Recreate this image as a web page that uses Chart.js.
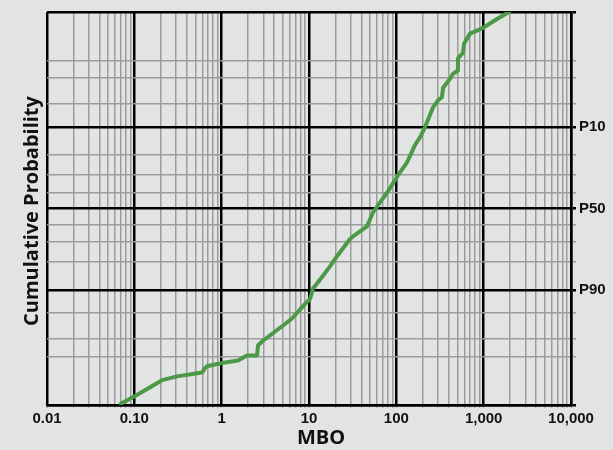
<!DOCTYPE html>
<html>
<head>
<meta charset="utf-8">
<script src="https://cdn.jsdelivr.net/npm/chart.js@4.4.1/dist/chart.umd.min.js"></script>
<style>
  body { margin: 0; background: #e2e4e3; }
  canvas { display: block; }
</style>
</head>
<body>
<canvas id="mycanvas" width="613" height="450"></canvas>
<script>
// MBO values along the curve
var mboValues = [0.070, 0.102, 0.208, 0.308, 0.596, 0.644, 0.679, 1.01, 1.54, 1.95, 2.54, 2.61, 2.97,
  5.04, 6.39, 9.0, 10.3, 11.1, 12.7, 17.4, 20.9, 29.5, 31.9, 46.2, 54.1, 68.6, 80.3, 102, 132, 164,
  187, 213, 263, 300, 333, 343, 412, 446, 508, 508, 581, 596, 698, 984, 1422, 1950];
// normal score (standard deviates) of the cumulative probability, up = lower P
var normalScore = [-3.07, -2.95, -2.70, -2.64, -2.58, -2.51, -2.48, -2.43, -2.39, -2.31, -2.31, -2.15, -2.08,
  -1.84, -1.73, -1.50, -1.42, -1.26, -1.16, -0.91, -0.75, -0.48, -0.44, -0.28, -0.06, 0.14, 0.27, 0.50, 0.72, 1.00,
  1.12, 1.28, 1.59, 1.70, 1.75, 1.90, 2.04, 2.12, 2.17, 2.36, 2.45, 2.59, 2.75, 2.84, 2.98, 3.09];

// x axis
var xDecades = [0.01, 0.1, 1, 10, 100, 1000, 10000];
var xTickLabels = ['0.01', '0.10', '1', '10', '100', '1,000', '10,000'];

// y axis grid, exceedance probability in %
var probLines = [0.1, 1, 2, 5, 10, 20, 30, 40, 50, 60, 70, 80, 90, 95, 98, 99, 99.9];
var probMajor = [10, 50, 90];
var probLabels = ['P10', 'P50', 'P90'];

// inverse normal CDF (Acklam)
function probit(p) {
  var a = [-3.969683028665376e+01, 2.209460984245205e+02, -2.759285104469687e+02, 1.383577518672690e+02, -3.066479806614716e+01, 2.506628277459239e+00];
  var b = [-5.447609879822406e+01, 1.615858368580409e+02, -1.556989798598866e+02, 6.680131188771972e+01, -1.328068155288572e+01];
  var c = [-7.784894002430293e-03, -3.223964580411365e-01, -2.400758277161838e+00, -2.549732539343734e+00, 4.374664141464968e+00, 2.938163982698783e+00];
  var d = [7.784695709041462e-03, 3.224671290700398e-01, 2.445134137142996e+00, 3.754408661907416e+00];
  var q, r;
  if (p < 0.02425) {
    q = Math.sqrt(-2 * Math.log(p));
    return (((((c[0]*q+c[1])*q+c[2])*q+c[3])*q+c[4])*q+c[5]) / ((((d[0]*q+d[1])*q+d[2])*q+d[3])*q+1);
  } else if (p <= 1 - 0.02425) {
    q = p - 0.5; r = q * q;
    return (((((a[0]*r+a[1])*r+a[2])*r+a[3])*r+a[4])*r+a[5])*q / (((((b[0]*r+b[1])*r+b[2])*r+b[3])*r+b[4])*r+1);
  }
  q = Math.sqrt(-2 * Math.log(1 - p));
  return -(((((c[0]*q+c[1])*q+c[2])*q+c[3])*q+c[4])*q+c[5]) / ((((d[0]*q+d[1])*q+d[2])*q+d[3])*q+1);
}
function zOf(pct) { return probit(1 - pct / 100); }

var points = [];
for (var i = 0; i < mboValues.length; i++) {
  points.push({x: mboValues[i], y: normalScore[i]});
}

// all 1..9 ticks per decade
var xGridValues = [];
for (var k = -2; k <= 4; k++) {
  for (var m = 1; m <= 9; m++) {
    if (k == 4 && m > 1) break;
    xGridValues.push(Number((m * Math.pow(10, k)).toPrecision(6)));
  }
}
function isDecade(v) {
  var l = Math.log10(v);
  return Math.abs(l - Math.round(l)) < 1e-9;
}
function isMajorProb(z) {
  for (var j = 0; j < probMajor.length; j++) {
    if (Math.abs(zOf(probMajor[j]) - z) < 1e-6) return j;
  }
  return -1;
}
var zMin = zOf(99.9), zMax = zOf(0.1);
function isEdge(z) { return Math.abs(z - zMin) < 1e-6 || Math.abs(z - zMax) < 1e-6; }

var bgPlugin = {
  id: 'bg',
  beforeDraw: function(chart) {
    var c = chart.ctx;
    c.save();
    c.fillStyle = '#e2e4e3';
    c.fillRect(0, 0, chart.width, chart.height);
    c.restore();
  },
  afterDraw: function(chart) {
    var c = chart.ctx;
    c.save();
    c.fillStyle = '#111';
    c.font = 'bold 20px "Open Sans"';
    c.textAlign = 'center';
    c.textBaseline = 'middle';
    c.fillText('MBO', 321, 438);
    c.translate(32, 211);
    c.rotate(-Math.PI / 2);
    c.fillText('Cumulative Probability', 0, 0);
    c.restore();
  }
};

var ctx = document.getElementById('mycanvas').getContext('2d');
var chart = new Chart(ctx, {
  type: 'line',
  data: {
    datasets: [{
      label: 'MBO',
      data: points,
      borderColor: '#4c9a48',
      borderWidth: 4,
      pointRadius: 0,
      tension: 0,
      borderCapStyle: 'round',
      borderJoinStyle: 'round'
    }]
  },
  options: {
    responsive: false,
    animation: false,
    devicePixelRatio: 1,
    layout: { padding: { left: 47, top: 9, right: 0, bottom: 0 } },
    plugins: {
      legend: { display: false },
      tooltip: { enabled: false }
    },
    scales: {
      x: {
        type: 'logarithmic',
        min: 0.01,
        max: 10000,
        afterBuildTicks: function(scale) {
          scale.ticks = xGridValues.map(function(v) { return {value: v}; });
        },
        afterFit: function(scale) { scale.height = 45; },
        grid: {
          color: function(c) { return c.tick && isDecade(c.tick.value) ? '#000' : '#9c9c9c'; },
          lineWidth: function(c) { return c.tick && isDecade(c.tick.value) ? 2.5 : 1.5; },
          tickColor: '#9c9c9c',
          tickLength: 3,
          tickWidth: 1
        },
        border: { display: true, color: '#000', width: 2.5 },
        ticks: {
          autoSkip: false,
          maxRotation: 0,
          padding: 2,
          color: '#111',
          font: { family: '"Liberation Sans"', size: 15, weight: 'bold' },
          callback: function(value) {
            if (!isDecade(value)) return '';
            var idx = Math.round(Math.log10(value)) + 2;
            return xTickLabels[idx];
          }
        }
      },
      y: {
        type: 'linear',
        position: 'right',
        min: zMin,
        max: zMax,
        afterBuildTicks: function(scale) {
          scale.ticks = probLines.map(function(p) { return {value: zOf(p)}; });
        },
        afterFit: function(scale) { scale.width = 42; },
        grid: {
          color: function(c) {
            if (!c.tick) return '#9c9c9c';
            return (isMajorProb(c.tick.value) >= 0 || isEdge(c.tick.value)) ? '#000' : '#9c9c9c';
          },
          lineWidth: function(c) {
            if (!c.tick) return 1.5;
            return (isMajorProb(c.tick.value) >= 0 || isEdge(c.tick.value)) ? 2.5 : 1.5;
          },
          tickLength: 5
        },
        border: { display: true, color: '#000', width: 2.5 },
        ticks: {
          autoSkip: false,
          padding: 3,
          color: '#111',
          font: { family: '"Liberation Sans"', size: 15, weight: 'bold' },
          callback: function(value) {
            var j = isMajorProb(value);
            return j >= 0 ? probLabels[j] : '';
          }
        }
      }
    }
  },
  plugins: [bgPlugin]
});
</script>
</body>
</html>
